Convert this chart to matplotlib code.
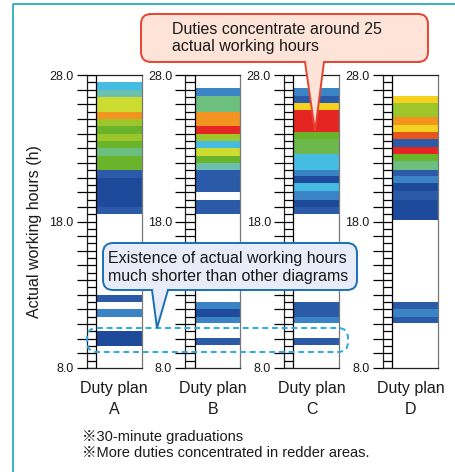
import matplotlib.pyplot as plt
import numpy as np
from matplotlib.patches import FancyBboxPatch, Polygon

plt.rcParams['font.family'] = ['Liberation Sans', 'Noto Sans CJK JP', 'DejaVu Sans']

# colour levels (bluer = fewer duties, redder = more)
pal = {'db': '#1e4a9c', 'b': '#2a5aa8', 'mb': '#3a84c6', 'lb': '#45bde3',
       'tl': '#6cc0b0', 'tg': '#6dbf80', 'g': '#6ab42c', 'g2': '#6cb84c',
       'yg': '#9dc62a', 'ly': '#cddc30', 'y': '#f5d21e', 'o': '#f39320',
       'ro': '#e8561e', 'r': '#e52521'}

plans = ['A', 'B', 'C', 'D']

# band edges in hours (top, bottom) and colour level for each duty plan
a_top = [27.5, 27.0, 26.5, 25.5, 25.0, 24.5, 24.0, 23.5, 23.0, 22.5, 21.5, 21.0, 19.0, 13.0, 12.0, 10.5]
a_bot = [27.0, 26.5, 25.5, 25.0, 24.5, 24.0, 23.5, 23.0, 22.5, 21.5, 21.0, 19.0, 18.5, 12.5, 11.5, 9.5]
a_lvl = ['lb', 'tl', 'ly', 'o', 'yg', 'g', 'yg', 'g', 'tg', 'g', 'b', 'db', 'b', 'b', 'mb', 'db']

b_top = [27.1, 26.6, 25.5, 24.5, 24.0, 23.5, 23.0, 22.5, 22.0, 21.5, 19.5, 12.5, 12.0, 11.5, 10.05]
b_bot = [26.6, 25.5, 24.5, 24.0, 23.5, 23.0, 22.5, 22.0, 21.5, 20.0, 18.5, 12.0, 11.5, 11.05, 9.55]
b_lvl = ['mb', 'tg', 'o', 'r', 'yg', 'lb', 'ly', 'g', 'tl', 'b', 'b', 'mb', 'db', 'mb', 'b']

c_top = [27.1, 26.6, 26.1, 25.6, 24.1, 23.6, 22.6, 21.5, 21.1, 20.6, 20.1, 19.5, 19.0, 12.5, 11.5, 10.05]
c_bot = [26.6, 26.1, 25.6, 24.1, 23.6, 22.6, 21.5, 21.1, 20.6, 20.1, 19.5, 19.0, 18.5, 11.5, 11.05, 9.55]
c_lvl = ['mb', 'b', 'y', 'r', 'g', 'g2', 'lb', 'mb', 'db', 'lb', 'mb', 'db', 'b', 'b', 'mb', 'b']

d_top = [26.6, 26.1, 25.1, 24.6, 24.1, 23.6, 23.1, 22.6, 22.1, 21.5, 21.1, 20.6, 20.1, 19.5, 12.5, 12.0, 11.5]
d_bot = [26.1, 25.1, 24.6, 24.1, 23.6, 23.1, 22.6, 22.1, 21.5, 21.1, 20.6, 20.1, 19.5, 18.1, 12.0, 11.5, 11.05]
d_lvl = ['y', 'yg', 'o', 'y', 'ro', 'b', 'r', 'g', 'tg', 'b', 'mb', 'db', 'b', 'db', 'b', 'mb', 'b']

tops = [a_top, b_top, c_top, d_top]
bots = [a_bot, b_bot, c_bot, d_bot]
lvls = [a_lvl, b_lvl, c_lvl, d_lvl]

W, H = 455, 472
fig = plt.figure(figsize=(W / 100, H / 100), dpi=100)

def px(x0, y0, x1, y1):
    return [x0 / W, 1 - y1 / H, (x1 - x0) / W, (y1 - y0) / H]

lf = 0.17  # ladder width as fraction of panel
txt = '#1a1a1a'
for i in range(4):
    x0 = 86.5 + 98.8 * i
    ax = fig.add_axes(px(x0, 75, x0 + 55, 368))
    ax.set_xlim(0, 1)
    ax.set_ylim(8, 28)
    h = np.array(tops[i]) - np.array(bots[i])
    ax.bar((1 + lf) / 2, h, bottom=bots[i], width=1 - lf,
           color=[pal[k] for k in lvls[i]], linewidth=0, zorder=2)
    # ladder with 30-minute rungs
    ax.hlines(np.arange(8, 28.01, 0.5), 0, lf, color='k', lw=0.9, zorder=3)
    ax.axvline(lf, color='k', lw=0.9, zorder=3)
    ax.set_yticks(np.arange(8, 29, 1))
    ax.set_yticklabels(['%.1f' % v if v in (8, 18, 28) else '' for v in range(8, 29)],
                       fontsize=9, color=txt)
    ax.tick_params(axis='y', length=7, width=0.9, pad=2.5, color='k')
    ax.set_xticks([])
    for s in ['left', 'top', 'bottom']:
        ax.spines[s].set_color('#222222')
        ax.spines[s].set_linewidth(0.9)
    ax.spines['right'].set_color('#777777')
    ax.spines['right'].set_linewidth(0.9)

# overlay in pixel coordinates
ov = fig.add_axes([0, 0, 1, 1])
ov.set_xlim(0, W)
ov.set_ylim(H, 0)
ov.axis('off')
ov.patch.set_alpha(0)

# frame
ov.plot([12.5, 12.5, W], [H, 3.5, 3.5], color='#1aa6b2', lw=1.2)

ov.text(35, 232, 'Actual working hours (h)', rotation=90, ha='center', va='center',
        fontsize=11.5, color=txt)
for i, p in enumerate(plans):
    cx = 86.5 + 98.8 * i + 27.5
    ov.text(cx, 388, 'Duty plan', ha='center', va='center', fontsize=11.5, color=txt)
    ov.text(cx, 409, p, ha='center', va='center', fontsize=11.5, color=txt)

ov.text(82, 437, '※30-minute graduations', ha='left', va='center', fontsize=10.5, color=txt)
ov.text(82, 453, '※More duties concentrated in redder areas.', ha='left', va='center',
        fontsize=10.5, color=txt)

def callout(x0, y0, x1, y1, bx0, bx1, tip, fc, ec):
    ov.add_patch(FancyBboxPatch((x0, y0), x1 - x0, y1 - y0,
                                boxstyle='round,pad=0,rounding_size=10',
                                fc=fc, ec=ec, lw=1.4, zorder=5))
    ov.add_patch(Polygon([(bx0, y1 - 1.5), (bx1, y1 - 1.5), tip], closed=True,
                         fc=fc, ec='none', zorder=6))
    ov.plot([bx0, tip[0], bx1], [y1, tip[1], y1], color=ec, lw=1.4, zorder=7,
            solid_joinstyle='miter')

callout(141, 14, 428, 62, 305, 324, (315, 131), '#fde3d8', '#e8432f')
ov.text(172, 29, 'Duties concentrate around 25', ha='left', va='center', fontsize=11.5,
        color=txt, zorder=8)
ov.text(172, 46, 'actual working hours', ha='left', va='center', fontsize=11.5,
        color=txt, zorder=8)

# dashed outline round the shortest duties
ov.add_patch(FancyBboxPatch((87, 328), 261, 24, boxstyle='round,pad=0,rounding_size=10',
                            fc='none', ec='#29abe2', lw=1.4, ls=(0, (3, 2)), zorder=4))

callout(103, 243, 357, 290, 152, 168, (157, 328), '#e8ecf8', '#1a6fb5')
ov.text(108, 258, 'Existence of actual working hours', ha='left', va='center',
        fontsize=11.5, color=txt, zorder=8)
ov.text(108, 277, 'much shorter than other diagrams', ha='left', va='center',
        fontsize=11.5, color=txt, zorder=8)

fig.savefig('out.png', dpi=100)
